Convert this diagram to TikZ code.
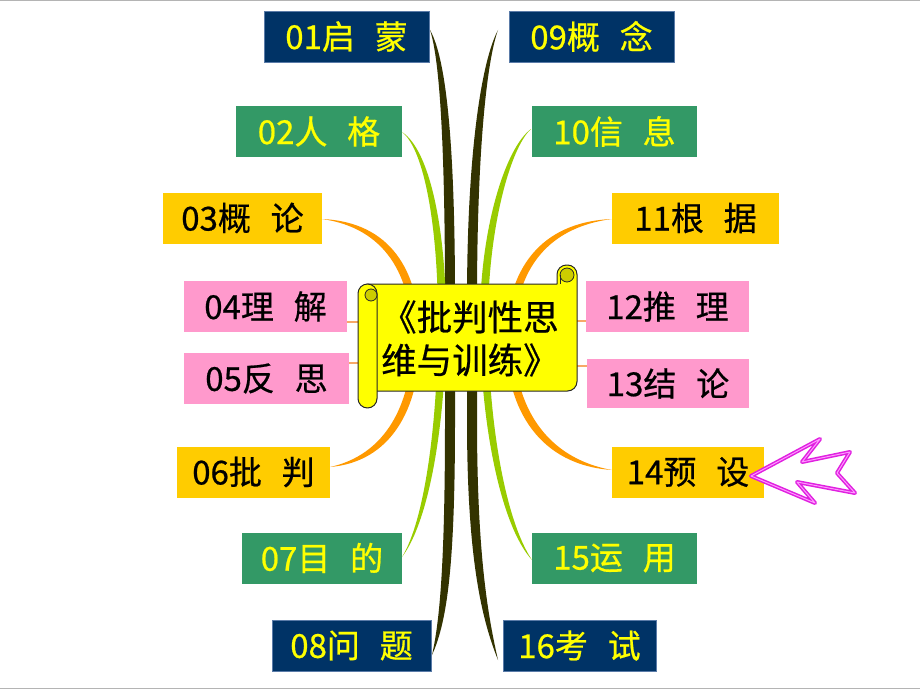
\documentclass[tikz,border=0pt]{standalone}
\usepackage{fontspec}
\setmainfont{Noto Sans CJK SC}[FakeBold=0.6]
\definecolor{navy}{HTML}{003366}
\definecolor{navyedge}{HTML}{5A7BA8}
\definecolor{grn}{HTML}{339966}
\definecolor{gold}{HTML}{FFCC00}
\definecolor{pnk}{HTML}{FF99CC}
\definecolor{ytxt}{HTML}{FFFF00}
\definecolor{dstrand}{HTML}{333300}
\definecolor{gstrand}{HTML}{99CC00}
\definecolor{ostrand}{HTML}{FF9900}
\definecolor{thinor}{HTML}{F7A868}
\definecolor{scrollY}{HTML}{FFFF00}
\definecolor{curlY}{HTML}{CCCC00}
\definecolor{arrowM}{HTML}{E020E0}
\definecolor{arrowL}{HTML}{FF99FF}
\definecolor{grayline}{HTML}{B4B4B4}
\tikzset{
  box/.style={inner sep=0pt, minimum height=51pt, anchor=center,
    font=\fontsize{33}{33}\selectfont},
  navybox/.style={box, fill=navy, draw=navyedge, line width=0.8pt, text=ytxt},
  greenbox/.style={box, fill=grn, text=ytxt},
  goldbox/.style={box, fill=gold, text=black},
  pinkbox/.style={box, fill=pnk, text=black},
  scrollshape/.style={fill=scrollY, draw=black!85, line width=1pt, line join=round},
  thinline/.style={draw=thinor, line width=1.2pt},
}
\newcommand{\gap}{\hspace{0.6em}}
\begin{document}
\begin{tikzpicture}[x=1pt, y=-1pt]
\useasboundingbox (0,0) rectangle (920,690);
\fill[white] (0,0) rectangle (920,690);
% gray frame lines
\draw[grayline, line width=1.5pt] (0,0.75) -- (920,0.75);
\draw[grayline, line width=1.5pt] (0,688.5) -- (920,688.5);

% dark strands
\fill[dstrand] (430,30) .. controls (440,60) and (445,150) .. (445,300) -- (445,420)
  .. controls (445,560) and (440,620) .. (432,655)
  .. controls (448,620) and (455,560) .. (455,420) -- (455,300)
  .. controls (455,150) and (447,60) .. (430,30) -- cycle;
\fill[dstrand] (498,30) .. controls (482,60) and (467,150) .. (467,300) -- (467,420)
  .. controls (467,560) and (482,620) .. (498,660)
  .. controls (489,620) and (477,560) .. (477,420) -- (477,300)
  .. controls (477,150) and (487,60) .. (498,30) -- cycle;
% green strands
\fill[gstrand] (402,132) .. controls (425,150) and (438,230) .. (438,320)
  .. controls (438,420) and (425,520) .. (402,557)
  .. controls (430,520) and (446,420) .. (446,320)
  .. controls (446,230) and (430,150) .. (402,132) -- cycle;
\fill[gstrand] (531,129) .. controls (505,148) and (480,230) .. (480,320)
  .. controls (480,420) and (500,525) .. (532,560)
  .. controls (505,520) and (488,420) .. (488,320)
  .. controls (488,230) and (510,148) .. (531,129) -- cycle;
% orange strands
\fill[ostrand] (322,219) .. controls (390,222) and (420,270) .. (420,340)
  .. controls (420,410) and (390,462) .. (330,467)
  .. controls (385,455) and (412,405) .. (412,340)
  .. controls (412,275) and (385,228) .. (322,219) -- cycle;
\fill[ostrand] (612,219) .. controls (540,222) and (506,270) .. (506,340)
  .. controls (506,410) and (540,465) .. (612,470)
  .. controls (545,458) and (514,405) .. (514,340)
  .. controls (514,275) and (543,228) .. (612,219) -- cycle;

% boxes
\node[navybox, minimum width=165pt] (b01) at (346.5,36.5) {01启\gap 蒙};
\node[greenbox, minimum width=166pt] (b02) at (319,131.5) {02人\gap 格};
\node[goldbox, minimum width=159pt] (b03) at (242.5,218) {03概\gap 论};
\node[pinkbox, minimum width=163pt] (b04) at (265.5,306.5) {04理\gap 解};
\node[pinkbox, minimum width=165pt] (b05) at (266.5,378.5) {05反\gap 思};
\node[goldbox, minimum width=153pt] (b06) at (253.5,472) {06批\gap 判};
\node[greenbox, minimum width=160pt] (b07) at (322,558) {07目\gap 的};
\node[navybox, minimum width=159pt] (b08) at (351.5,645.5) {08问\gap 题};
\node[navybox, minimum width=165pt] (b09) at (591.5,36.5) {09概\gap 念};
\node[greenbox, minimum width=165pt] (b10) at (614.5,131.5) {10信\gap 息};
\node[goldbox, minimum width=167pt] (b11) at (695.5,218) {11根\gap 据};
\node[pinkbox, minimum width=163pt] (b12) at (667.5,306.5) {12推\gap 理};
\node[pinkbox, minimum width=162pt, minimum height=49pt] (b13) at (668,383.5) {13结\gap 论};
\node[goldbox, minimum width=152pt] (b14) at (688,472) {14预\gap 设};
\node[greenbox, minimum width=165pt] (b15) at (614.5,558) {15运\gap 用};
\node[navybox, minimum width=153pt] (b16) at (579.5,645.5) {16考\gap 试};

% thin connectors to the scroll
\coordinate (sL1) at (358,322);
\coordinate (sL2) at (358,363);
\coordinate (sR1) at (577,321);
\coordinate (sR2) at (577,366);
\draw[thinline] (b04.east |- sL1) -- (sL1);
\draw[thinline] (b05.east |- sL2) -- (sL2);
\draw[thinline] (b12.west |- sR1) -- (sR1);
\draw[thinline] (b13.west |- sR2) -- (sR2);

% scroll
\filldraw[scrollshape] (367,284) -- (557,284) [rounded corners=9.5pt] -- (557,265) -- (577,265) -- (577,391) [sharp corners] -- (367,391) -- cycle;
\filldraw[fill=curlY, draw=black!85, line width=0.8pt] (567,275) circle[radius=7];
\draw[black!85, line width=0.8pt] (560,275) -- (560,284);
\filldraw[scrollshape, rounded corners=9.5pt] (358,284) rectangle (377,408);
\filldraw[fill=curlY, draw=black!85, line width=0.8pt] (371,295) circle[radius=6];
\node[anchor=west, align=left, inner sep=0pt, font=\fontsize{35.5}{43}\selectfont] (title) at (381,338.5) {《批判性思\\维与训练》};

% pink arrow
\draw[arrowM, line width=4pt, line join=round, fill=white] (751,476) -- (820,439) -- (802,462) -- (850,452) -- (837,473) -- (855,493) -- (797,482) -- (815,503) -- cycle;
\draw[arrowL, line width=1pt, line join=round] (751,476) -- (820,439) -- (802,462) -- (850,452) -- (837,473) -- (855,493) -- (797,482) -- (815,503) -- cycle;
\end{tikzpicture}
\end{document}
